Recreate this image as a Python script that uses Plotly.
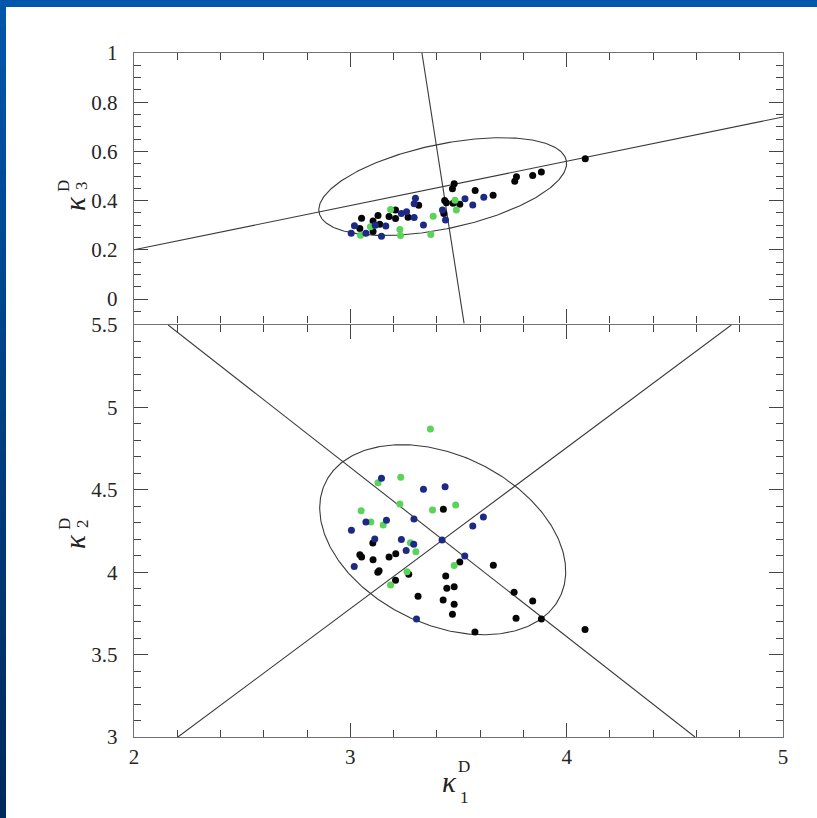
import numpy as np
import plotly.graph_objects as go

# ---------------- data ----------------
# Bottom panel: kappa1 vs kappa2
k1_green_b = [3.370, 3.233, 3.128, 3.229, 3.487, 3.380, 3.050, 3.095, 3.152, 3.278, 3.303, 3.480, 3.262, 3.186]
k2_green_b = [4.869, 4.576, 4.543, 4.414, 4.408, 4.377, 4.373, 4.305, 4.286, 4.179, 4.124, 4.040, 4.003, 3.922]

k1_blue_b = [3.144, 3.338, 3.438, 3.294, 3.167, 3.072, 3.005, 3.615, 3.566, 3.113, 3.236, 3.424, 3.293, 3.258, 3.529, 3.018, 3.306]
k2_blue_b = [4.570, 4.503, 4.519, 4.323, 4.315, 4.305, 4.254, 4.335, 4.280, 4.201, 4.199, 4.195, 4.169, 4.131, 4.098, 4.034, 3.716]

k1_black_b = [3.430, 3.104, 3.044, 3.052, 3.105, 3.179, 3.210, 3.506, 3.661, 3.133, 3.127, 3.270, 3.441,
              3.209, 3.446, 3.480, 3.313, 3.429, 3.480, 3.757, 3.843, 3.472, 3.766, 3.883, 3.576, 4.085]
k2_black_b = [4.382, 4.177, 4.106, 4.092, 4.076, 4.092, 4.112, 4.062, 4.042, 4.009, 4.000, 3.987, 3.977,
              3.951, 3.902, 3.912, 3.854, 3.831, 3.805, 3.878, 3.825, 3.745, 3.720, 3.716, 3.637, 3.653]

# Top panel: kappa1 vs kappa3
k1_black_t = [4.086, 3.883, 3.843, 3.768, 3.760, 3.660, 3.577, 3.480, 3.472, 3.436, 3.444, 3.506, 3.475,
              3.432, 3.316, 3.209, 3.209, 3.179, 3.267, 3.128, 3.052, 3.105, 3.136, 3.044, 3.105]
k3_black_t = [0.570, 0.516, 0.502, 0.497, 0.479, 0.422, 0.441, 0.468, 0.448, 0.400, 0.391, 0.385, 0.389,
              0.348, 0.381, 0.362, 0.327, 0.335, 0.332, 0.339, 0.328, 0.317, 0.304, 0.287, 0.274]

k1_blue_t = [3.617, 3.530, 3.566, 3.301, 3.295, 3.260, 3.236, 3.295, 3.426, 3.440, 3.338, 3.164, 3.115, 3.019, 3.072, 3.004, 3.144]
k3_blue_t = [0.414, 0.408, 0.382, 0.410, 0.387, 0.355, 0.348, 0.331, 0.362, 0.321, 0.301, 0.297, 0.300, 0.298, 0.267, 0.267, 0.255]

k1_green_t = [3.484, 3.490, 3.383, 3.186, 3.229, 3.232, 3.372, 3.047, 3.093]
k3_green_t = [0.401, 0.362, 0.336, 0.364, 0.283, 0.258, 0.262, 0.259, 0.294]

# principal-axis lines (end points)
top_axis1_x = [2.0, 5.0]
top_axis1_y = [0.200, 0.740]
top_axis2_x = [3.331, 3.526]
top_axis2_y = [1.0, -0.1]
bot_axis1_x = [2.158, 4.593]
bot_axis1_y = [5.5, 3.0]
bot_axis2_x = [2.203, 4.761]
bot_axis2_y = [3.0, 5.5]

# ellipses: centre and the two semi-axis vectors
top_ell_center = [3.427, 0.457]
top_ell_a1 = [0.572, 0.103]
top_ell_a2 = [-0.029, 0.170]
bot_ell_center = [3.427, 4.197]
bot_ell_a1 = [0.458, -0.477]
bot_ell_a2 = [0.337, 0.324]

x_ticks = [2, 3, 4, 5]

# ---------------- figure geometry ----------------
W, H = 817, 818
ML, MR, MT, MB = 134, 34, 53, 81
PW, PH = W - ML - MR, H - MT - MB
LW = 1.4
SPLIT = (737 - 325) / PH
SPLIT_TOP = SPLIT + LW / PH


def px(xp):
    return (xp - ML) / PW


def py(yp):
    return (H - MB - yp) / PH


def ellipse(c, a1, a2):
    t = np.linspace(0, 2 * np.pi, 361)
    x = c[0] + a1[0] * np.cos(t) + a2[0] * np.sin(t)
    y = c[1] + a1[1] * np.cos(t) + a2[1] * np.sin(t)
    return x, y


BLACK = "#060606"
BLUE = "#1c2a86"
GREEN = "#58d458"
LINE = "#3a3a3a"
MS = 7

fig = go.Figure()


def pts(x, y, color, xa, ya):
    fig.add_trace(go.Scatter(x=x, y=y, mode="markers", xaxis=xa, yaxis=ya,
                             marker=dict(size=MS, color=color, line=dict(width=0)),
                             showlegend=False, hoverinfo="x+y"))


def ln(x, y, xa, ya):
    fig.add_trace(go.Scatter(x=x, y=y, mode="lines", xaxis=xa, yaxis=ya,
                             line=dict(color=LINE, width=1.1), showlegend=False,
                             hoverinfo="skip"))


# bottom panel
ex, ey = ellipse(bot_ell_center, bot_ell_a1, bot_ell_a2)
ln(ex, ey, "x", "y")
ln(bot_axis1_x, bot_axis1_y, "x", "y")
ln(bot_axis2_x, bot_axis2_y, "x", "y")
pts(k1_black_b, k2_black_b, BLACK, "x", "y")
pts(k1_green_b, k2_green_b, GREEN, "x", "y")
pts(k1_blue_b, k2_blue_b, BLUE, "x", "y")

# top panel
ex, ey = ellipse(top_ell_center, top_ell_a1, top_ell_a2)
ln(ex, ey, "x2", "y2")
ln(top_axis1_x, top_axis1_y, "x2", "y2")
ln(top_axis2_x, top_axis2_y, "x2", "y2")
pts(k1_black_t, k3_black_t, BLACK, "x2", "y2")
pts(k1_green_t, k3_green_t, GREEN, "x2", "y2")
pts(k1_blue_t, k3_blue_t, BLUE, "x2", "y2")

TICKFONT = dict(family="Liberation Serif", size=21, color="#262626")
TC = "#444444"
common = dict(showgrid=False, zeroline=False, showline=True, linecolor="#707070",
              linewidth=LW, mirror="ticks", ticks="inside", ticklen=14, tickwidth=1,
              tickcolor=TC, tickfont=TICKFONT)

fig.update_layout(
    width=W, height=H,
    margin=dict(l=ML, r=MR, t=MT, b=MB),
    paper_bgcolor="white", plot_bgcolor="white",
    xaxis=dict(domain=[0, 1], range=[2, 5], anchor="y", tickvals=x_ticks,
               minor=dict(dtick=0.2, tick0=2, ticklen=7, ticks="inside", tickcolor=TC),
               ticklabelstandoff=1, **common),
    xaxis2=dict(domain=[0, 1], range=[2, 5], anchor="y2", matches="x", tickvals=x_ticks,
                showticklabels=False,
                minor=dict(dtick=0.2, tick0=2, ticklen=7, ticks="inside", tickcolor=TC),
                **common),
    yaxis=dict(domain=[0, SPLIT], range=[3, 5.5], anchor="x", tick0=3, dtick=0.5,
               minor=dict(dtick=0.1, tick0=3, ticklen=7, ticks="inside", tickcolor=TC),
               ticklabelstandoff=11, **common),
    yaxis2=dict(domain=[SPLIT_TOP, 1], range=[-0.1, 1], anchor="x2", tick0=0, dtick=0.2,
                minor=dict(dtick=0.05, tick0=0, ticklen=7, ticks="inside", tickcolor=TC),
                ticklabelstandoff=11, **common),
)

# ---------------- slide background (blue frame) ----------------
shapes = []
shapes.append(dict(type="rect", xref="paper", yref="paper", x0=px(0), x1=px(W), y0=py(0), y1=py(7),
                   fillcolor="#0056aa", line=dict(width=0), layer="below"))
n = 40
c0 = np.array([0x00, 0x56, 0xaa])
c1 = np.array([0x00, 0x2a, 0x5c])
for i in range(n):
    f = i / (n - 1)
    c = (c0 * (1 - f) + c1 * f).astype(int)
    shapes.append(dict(type="rect", xref="paper", yref="paper",
                       x0=px(0), x1=px(6), y0=py(7 + i * (H - 7) / n), y1=py(7 + (i + 1) * (H - 7) / n + 1),
                       fillcolor="rgb(%d,%d,%d)" % tuple(c), line=dict(width=0), layer="below"))
fig.update_layout(shapes=shapes)

# ---------------- axis titles (kappa with stacked super/subscripts) ----------------
KF = dict(family="Liberation Serif", size=29, color="#222222")
SF = dict(family="Liberation Serif", size=17, color="#222222")


def a(xp, yp, text, font, angle=0):
    return dict(x=px(xp), y=py(yp), xref="paper", yref="paper", text=text, showarrow=False,
                font=font, textangle=angle, xanchor="center", yanchor="middle")


ann = [
    # x title
    a(449, 782, "<i>κ</i>", KF), a(464, 766, "D", SF), a(464, 797, "1", SF),
    # top y title
    a(75, 204, "<i>κ</i>", KF, -90), a(64, 186, "D", SF, -90), a(82, 186, "3", SF, -90),
    # bottom y title
    a(75, 542, "<i>κ</i>", KF, -90), a(64, 524, "D", SF, -90), a(82, 524, "2", SF, -90),
]
fig.update_layout(annotations=ann)

fig.write_html("out.html")
